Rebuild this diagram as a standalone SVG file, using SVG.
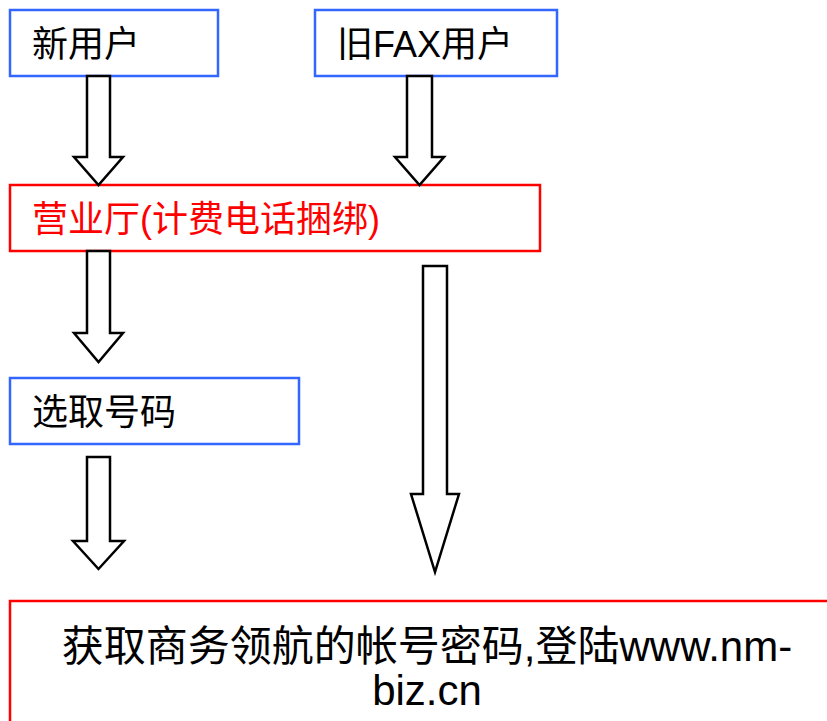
<svg xmlns="http://www.w3.org/2000/svg" width="827" height="721" viewBox="0 0 827 721">
<style>
.blue{fill:#fff;stroke:#3366ff;stroke-width:2.5}
.red{fill:#fff;stroke:#ff0000;stroke-width:2.5}
.arr{fill:#fff;stroke:#000;stroke-width:2.5;stroke-linejoin:miter}
text{font-family:"Liberation Sans","Noto Sans CJK SC",sans-serif;font-size:36px;fill:#000}
.rt{fill:#ff0000}
.big{font-size:42px}
</style>
<rect width="827" height="721" fill="#fff"/>
<g id="node-new">
<rect class="blue" x="10" y="10" width="208" height="66"/>
<text x="32" y="57">新用户</text>
</g>
<g id="node-fax">
<rect class="blue" x="315" y="10" width="242" height="66"/>
<text x="337" y="57">旧FAX用户</text>
</g>
<g id="node-hall">
<rect class="red" x="10" y="185" width="530" height="66"/>
<text class="rt" x="32" y="232">营业厅(计费电话捆绑)</text>
</g>
<g id="node-select">
<rect class="blue" x="10" y="378" width="289" height="66"/>
<text x="32" y="425">选取号码</text>
</g>
<g id="node-final">
<rect class="red" x="10" y="601" width="840" height="140"/>
<text class="big" x="427" y="661" text-anchor="middle">获取商务领航的帐号密码,登陆www.nm-</text>
<text class="big" x="427" y="705" text-anchor="middle">biz.cn</text>
</g>
<g id="connectors">
<path class="arr" d="M87,76 H110 V157 H123 L98.5,185 L74,157 H87 Z"/>
<path class="arr" d="M407,76 H432 V157 H444 L419.5,185 L395,157 H407 Z"/>
<path class="arr" d="M87,251 H110 V333 H123 L98.5,362 L74,333 H87 Z"/>
<path class="arr" d="M423,266 H447 V494 H459 L435,572 L411,494 H423 Z"/>
<path class="arr" d="M87,457 H110 V541 H124 L98.5,569 L73,541 H87 Z"/>
</g>
</svg>
